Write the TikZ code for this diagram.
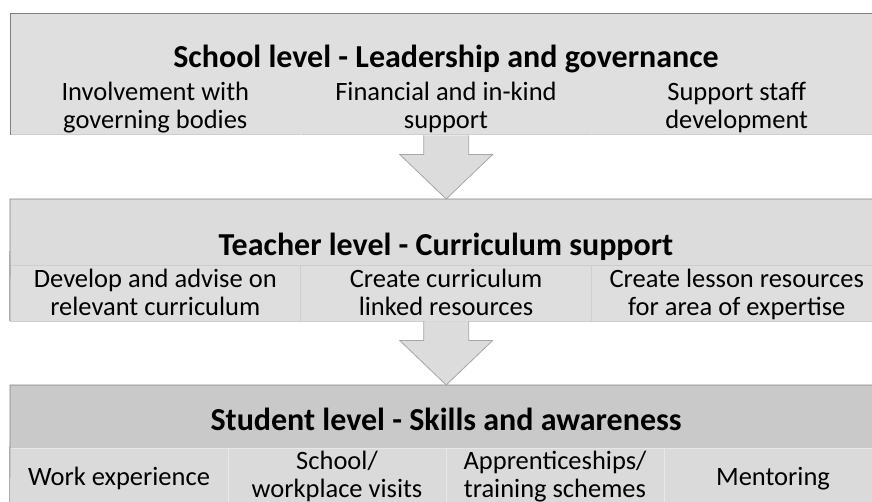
\documentclass[tikz,border=0pt]{standalone}
\usepackage{fontspec}
\setmainfont{Carlito}
\usepackage{tikz}
\usetikzlibrary{calc}
\definecolor{gray223}{HTML}{DFDFDF}
\definecolor{gray220}{HTML}{DCDCDC}
\definecolor{gray222}{HTML}{DEDEDE}
\definecolor{gray201}{HTML}{C9C9C9}
\definecolor{gray218}{HTML}{DADADA}
\definecolor{gray128}{HTML}{808080}
\definecolor{gray166}{HTML}{A6A6A6}
\definecolor{gray206}{HTML}{CECECE}
\definecolor{gray232}{HTML}{E8E8E8}
\tikzstyle{level}=[rectangle, inner sep=0pt, anchor=north west, minimum width=872pt]
\tikzstyle{cell}=[rectangle, inner sep=0pt, align=center, font=\fontsize{26.5}{28}\selectfont]
\tikzstyle{heading}=[anchor=base, font=\fontsize{32}{36}\selectfont\bfseries]
\tikzstyle{blockarrow}=[fill=gray220, draw=gray166, line width=0.8pt, line join=miter]

\begin{document}
\begin{tikzpicture}[x=1pt,y=-1pt]
			\useasboundingbox (0,0) rectangle (872,501);
			\clip (0,0) rectangle (872,501);
			% school level
			\node[level, fill=gray223, minimum height=122pt] (school) at (10,13) {};
			\node[heading] (schoolhead) at (446,67) {School level - Leadership and governance};
			\node[cell, minimum width=290.67pt, minimum height=60pt] (gov) at (155.3,108.4) {\strut Involvement with\\\strut governing bodies};
			\node[cell, minimum width=290.67pt, minimum height=60pt] (fin) at (446,108.4) {\strut Financial and in-kind\\\strut support};
			\node[cell, minimum width=290.67pt, minimum height=60pt] (staff) at (736.7,108.4) {\strut Support staff\\\strut development};
			\path[draw=gray206, line width=0.8pt] (10,134.6) -- (300.2,134.6) (301.8,134.6) -- (590.5,134.6) (592.1,134.6) -- (882,134.6);
			\path[draw=gray128, line width=0.8pt] (school.south west) -- (school.north west) -- (school.north east);
			% teacher level
			\node[level, fill=gray220, minimum height=66pt] (teacher) at (10,199) {};
			\node[heading] (teacherhead) at (446,255) {Teacher level - Curriculum support};
			\node[cell, draw=gray206, fill=gray222, minimum width=290.67pt, minimum height=56pt] (advise) at (155.3,293) {};
			\node[cell, draw=gray206, fill=gray222, minimum width=290.67pt, minimum height=56pt] (linked) at (446,293) {};
			\node[cell, draw=gray206, fill=gray222, minimum width=290.67pt, minimum height=56pt] (lesson) at (736.7,293) {};
			\node[cell] (advisetext) at (155.3,295.4) {\strut Develop and advise on\\\strut relevant curriculum};
			\node[cell] (linkedtext) at (446,295.4) {\strut Create curriculum\\\strut linked resources};
			\node[cell] (lessontext) at (736.7,295.4) {\strut Create lesson resources\\\strut for area of expertise};
			\path[draw=gray128, line width=0.8pt] (advise.south west) -- (teacher.north west) -- (teacher.north east);
			% student level
			\node[level, fill=gray201, minimum height=63pt] (student) at (10,385) {};
			\node[heading] (studenthead) at (446,430) {Student level - Skills and awareness};
			\node[cell, draw=gray232, fill=gray218, minimum width=218pt, minimum height=60pt] (work) at (119,478) {};
			\node[cell, draw=gray232, fill=gray218, minimum width=218pt, minimum height=60pt] (visits) at (337,478) {};
			\node[cell, draw=gray232, fill=gray218, minimum width=218pt, minimum height=60pt] (appr) at (555,478) {};
			\node[cell, draw=gray232, fill=gray218, minimum width=218pt, minimum height=60pt] (mentor) at (773,478) {};
			\node[cell] (worktext) at (119,479.4) {\strut Work experience};
			\node[cell] (visitstext) at (337,477.4) {\strut School/\\\strut workplace visits};
			\node[cell] (apprtext) at (555,477.4) {\strut Apprenticeships/\\\strut training schemes};
			\node[cell] (mentortext) at (773,479.4) {\strut Mentoring};
			\path[draw=gray128, line width=0.8pt] (work.south west) -- (student.north west) -- (student.north east);
			% arrows
			\path[blockarrow]
				($(school.south)+(-22.5,0)$) -- ++(0,19) -- ++(-24,0) -- (teacher.north)
				-- ($(school.south)+(46.5,19)$) -- ++(-24,0) -- ($(school.south)+(22.5,0)$);
			\path[blockarrow]
				($(teacher.south)+(-22.5,56)$) -- ++(0,19) -- ++(-24,0) -- (student.north)
				-- ($(teacher.south)+(46.5,75)$) -- ++(-24,0) -- ($(teacher.south)+(22.5,56)$);
		\end{tikzpicture}
\end{document}
